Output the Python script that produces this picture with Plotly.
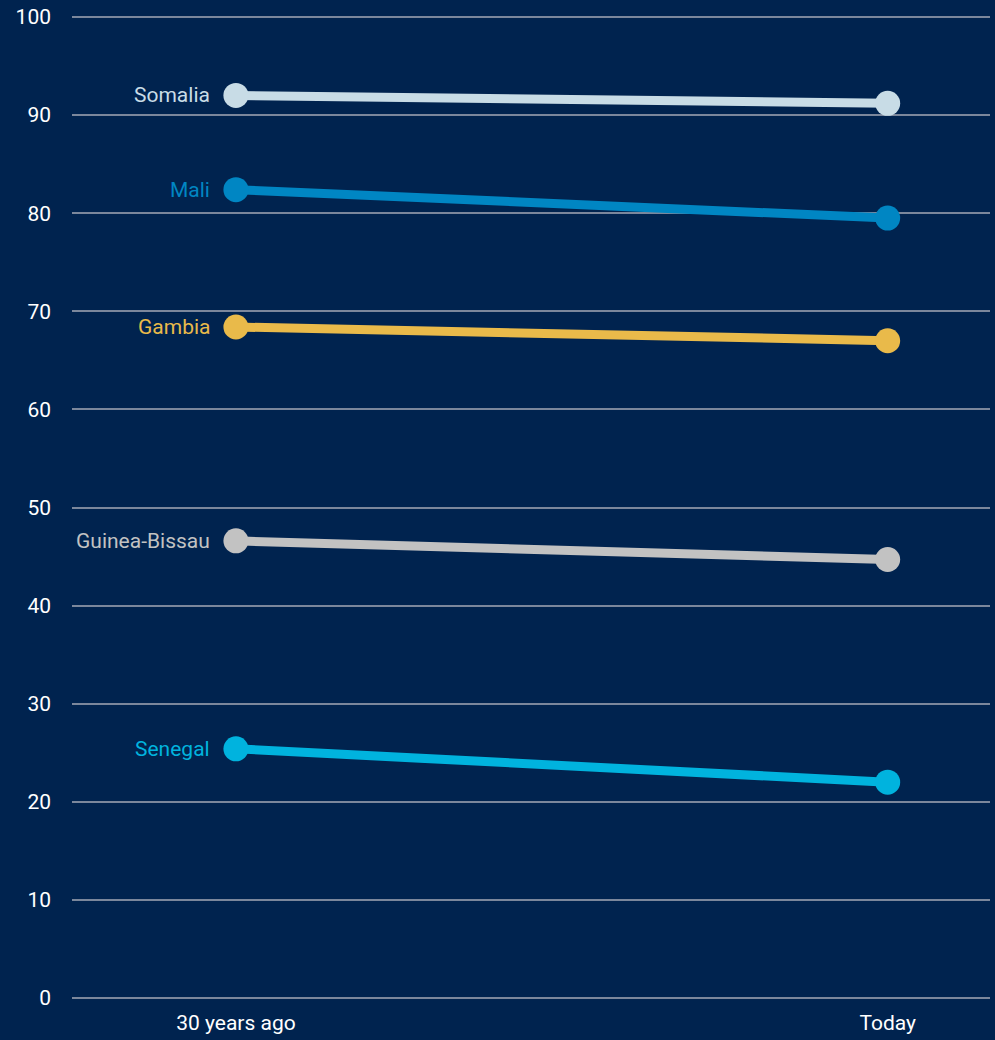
import plotly.graph_objects as go

periods = ["30 years ago", "Today"]
countries = ["Somalia", "Mali", "Gambia", "Guinea-Bissau", "Senegal"]
before = [92.0, 82.4, 68.4, 46.6, 25.4]
today = [91.2, 79.5, 67.0, 44.7, 22.0]
colors = ["#c8dce6", "#0086c3", "#e9ba4a", "#c2c2c2", "#00b3de"]

FONT = "Roboto, sans-serif"

fig = go.Figure()
for name, a, b, c in zip(countries, before, today, colors):
    fig.add_trace(go.Scatter(
        x=[0, 1], y=[a, b], mode="lines+markers", name=name,
        line=dict(color=c, width=9),
        marker=dict(color=c, size=25),
        showlegend=False, hoverinfo="skip",
    ))
    # country label left of the first point
    fig.add_annotation(
        x=0, y=a, text=name, showarrow=False,
        xanchor="right", xshift=-24,
        font=dict(family=FONT, size=21, color=c),
    )

fig.update_layout(
    width=995, height=1040,
    paper_bgcolor="#00234f", plot_bgcolor="#00234f",
    margin=dict(l=72, r=5, t=15, b=38),
    font=dict(family=FONT, size=21, color="#ffffff"),
    xaxis=dict(
        range=[-0.2515, 1.157], tickvals=[0, 1], ticktext=periods,
        showgrid=False, zeroline=False, showline=False, ticks="",
        tickfont=dict(size=21, color="#ffffff"), ticklabelstandoff=8,
    ),
    yaxis=dict(
        range=[-0.2, 100.2], tickvals=list(range(0, 101, 10)), showgrid=True,
        gridcolor="#7b879c", gridwidth=2,
        zeroline=True, zerolinecolor="#7b879c", zerolinewidth=2,
        showline=False, ticks="",
        tickfont=dict(size=21, color="#ffffff"), ticklabelstandoff=20,
    ),
)

fig.write_html(
    "out.html",
    config={"displayModeBar": False},
    post_script="document.body.style.margin='0';document.body.style.overflow='hidden';",
)
